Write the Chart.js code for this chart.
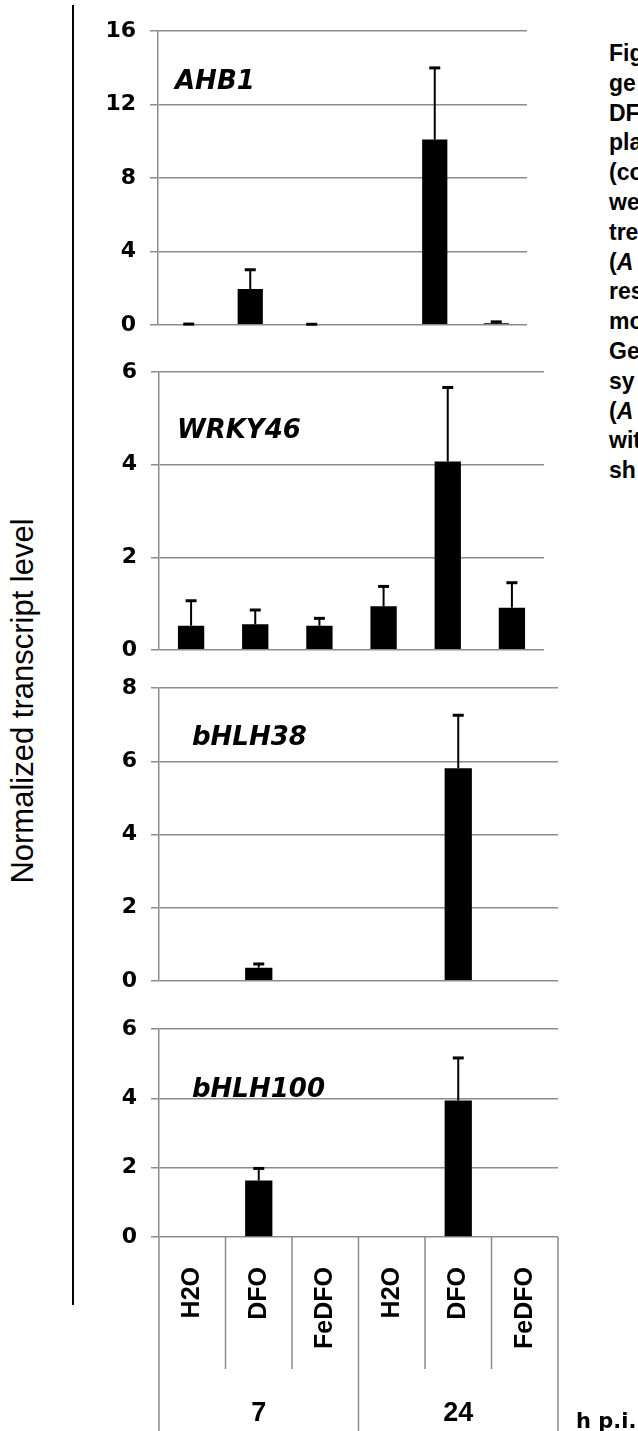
<!DOCTYPE html>
<html>
<head>
<meta charset="utf-8">
<script src="https://cdn.jsdelivr.net/npm/chart.js@4.4.1/dist/chart.umd.min.js"></script>
<style>
  html, body { margin: 0; padding: 0; background: #fff; }
  #page { position: relative; width: 638px; height: 1431px; overflow: hidden; background: #fff; }
  #page canvas { position: absolute; left: 0; }
  #leftbar { position: absolute; left: 72px; top: 5px; width: 2px; height: 1300px; background: #000; }
  #ytitle { position: absolute; left: 23px; top: 701px; transform: translate(-50%, -50%) rotate(-90deg);
            white-space: nowrap; font: 31px "Liberation Sans", Arial, sans-serif; color: #000; }
  #caption { position: absolute; left: 609px; top: 39px; white-space: nowrap; color: #000;
             font: bold 23px "Liberation Sans", Arial, sans-serif; line-height: 29.8px; }
</style>
</head>
<body>
<div id="page">
  <div id="leftbar"></div>
  <div id="ytitle">Normalized transcript level</div>
  <div id="caption">
    Fig<br>ge<br>DF<br>pla<br>(co<br>we<br>tre<br>(<i>A</i><br>res<br>mo<br>Ge<br>sy<br>(<i>A</i><br>wit<br>sh
  </div>
  <canvas id="c1"></canvas>
  <canvas id="c2"></canvas>
  <canvas id="c3"></canvas>
  <canvas id="c4"></canvas>
</div>
<script>
// treatments, two time points (hours post inoculation)
var categories = ['H2O', 'DFO', 'FeDFO', 'H2O', 'DFO', 'FeDFO'];
var timepoints = ['7', '24'];
var genes = ['AHB1', 'WRKY46', 'bHLH38', 'bHLH100'];

var ahb1 = [0.0, 1.95, 0.0, 0.05, 10.1, 0.08];
var ahb1Err = [0.04, 1.05, 0.03, 0.0, 3.9, 0.08];
var wrky46 = [0.52, 0.55, 0.52, 0.94, 4.07, 0.91];
var wrky46Err = [0.54, 0.31, 0.16, 0.43, 1.6, 0.54];
var bhlh38 = [0, 0.36, 0, 0, 5.81, 0];
var bhlh38Err = [0, 0.1, 0, 0, 1.45, 0];
var bhlh100 = [0, 1.63, 0, 0, 3.94, 0];
var bhlh100Err = [0, 0.35, 0, 0, 1.23, 0];

var yMax = [16, 6, 8, 6];
var yStep = [4, 2, 2, 2];

var gridColor = '#8c8c8c';

// plotTop = pixel row of the top gridline, plotH = height down to the zero line
var panels = [
  { canvas: 'c1', values: ahb1, errors: ahb1Err, plotTop: 31, width: 527, plotH: 293, axisLeft: 158, labelDx: 17, labelDy: 58 },
  { canvas: 'c2', values: wrky46, errors: wrky46Err, plotTop: 372, width: 544, plotH: 277, axisLeft: 159, labelDx: 18, labelDy: 66 },
  { canvas: 'c3', values: bhlh38, errors: bhlh38Err, plotTop: 688, width: 558, plotH: 292, axisLeft: 159, labelDx: 33, labelDy: 57 },
  { canvas: 'c4', values: bhlh100, errors: bhlh100Err, plotTop: 1029, width: 638, plotH: 208, axisLeft: 159, labelDx: 33, labelDy: 68, bottom: 194, right: 80 }
];

function errorBarsPlugin(errors) {
  return {
    id: 'errorBars',
    afterDatasetsDraw: function(chart) {
      var ctx = chart.ctx;
      var y = chart.scales.y;
      var meta = chart.getDatasetMeta(0);
      var vals = chart.data.datasets[0].data;
      ctx.save();
      ctx.strokeStyle = '#000';
      meta.data.forEach(function(bar, i) {
        if (!errors[i]) return;
        var yTop = y.getPixelForValue(vals[i] + errors[i]);
        ctx.lineWidth = 2;
        ctx.beginPath();
        ctx.moveTo(bar.x, bar.y);
        ctx.lineTo(bar.x, yTop);
        ctx.stroke();
        ctx.lineWidth = 3;
        ctx.beginPath();
        ctx.moveTo(bar.x - 5.5, yTop);
        ctx.lineTo(bar.x + 5.5, yTop);
        ctx.stroke();
      });
      ctx.restore();
    }
  };
}

function geneLabelPlugin(name, dx, dy) {
  return {
    id: 'geneLabel',
    afterDraw: function(chart) {
      var ctx = chart.ctx, ca = chart.chartArea;
      ctx.save();
      ctx.fillStyle = '#000';
      ctx.font = 'italic bold 26px "DejaVu Sans"';
      ctx.textAlign = 'left';
      ctx.textBaseline = 'alphabetic';
      ctx.fillText(name, ca.left + dx, ca.top + dy);
      ctx.restore();
    }
  };
}

// category frame under the last panel
var categoryFrame = {
  id: 'categoryFrame',
  afterDraw: function(chart) {
    var ctx = chart.ctx, ca = chart.chartArea, x = chart.scales.x;
    function mid(i) { return (x.getPixelForValue(i) + x.getPixelForValue(i + 1)) / 2; }
    function line(x0, y0, x1, y1) { ctx.beginPath(); ctx.moveTo(x0, y0); ctx.lineTo(x1, y1); ctx.stroke(); }
    ctx.save();
    ctx.strokeStyle = gridColor;
    ctx.lineWidth = 1.5;
    [0, 1, 3, 4].forEach(function(i) { line(mid(i), ca.bottom, mid(i), ca.bottom + 132); });
    [ca.left, mid(2), ca.right].forEach(function(px) { line(px, ca.bottom, px, chart.height); });

    ctx.fillStyle = '#000';
    ctx.font = 'bold 25px "Liberation Sans"';
    categories.forEach(function(c, i) {
      ctx.save();
      ctx.translate(x.getPixelForValue(i), ca.bottom + 30);
      ctx.rotate(-Math.PI / 2);
      ctx.textAlign = 'right';
      ctx.textBaseline = 'middle';
      ctx.fillText(c, 0, 0);
      ctx.restore();
    });

    ctx.font = 'bold 27px "Liberation Sans"';
    ctx.textAlign = 'center';
    ctx.textBaseline = 'alphabetic';
    timepoints.forEach(function(t, g) {
      var cx = (x.getPixelForValue(g * 3) + x.getPixelForValue(g * 3 + 2)) / 2;
      ctx.fillText(t, cx, ca.bottom + 184);
    });

    ctx.font = 'bold 21px "DejaVu Sans"';
    ctx.textAlign = 'left';
    ctx.fillText('h p.i.', ca.right + 18, ca.bottom + 191);
    ctx.restore();
  }
};

panels.forEach(function(p, k) {
  var el = document.getElementById(p.canvas);
  var bottomSpace = p.bottom || 28;
  // chart.js keeps about 27px above the top tick with this font
  el.width = p.width;
  el.height = 27 + p.plotH + bottomSpace;
  el.style.top = (p.plotTop - 27) + 'px';

  var plugins = [errorBarsPlugin(p.errors), geneLabelPlugin(genes[k], p.labelDx, p.labelDy)];
  if (k === 3) plugins.push(categoryFrame);

  new Chart(el.getContext('2d'), {
    type: 'bar',
    data: {
      labels: categories,
      datasets: [{
        data: p.values,
        backgroundColor: '#000',
        borderWidth: 0,
        barPercentage: 0.41,
        categoryPercentage: 1.0
      }]
    },
    options: {
      responsive: false,
      animation: false,
      layout: { padding: { top: 16, bottom: p.bottom || 16, left: 0, right: p.right || 0 } },
      plugins: { legend: { display: false }, tooltip: { enabled: false } },
      scales: {
        x: { display: false, offset: true },
        y: {
          min: 0,
          max: yMax[k],
          ticks: {
            stepSize: yStep[k],
            color: '#000',
            padding: 14,
            font: { family: 'DejaVu Sans', weight: 'bold', size: 22 }
          },
          grid: { color: gridColor, lineWidth: 1.5, tickLength: 8 },
          border: { color: gridColor, width: 1.5 },
          afterFit: function(scale) { scale.width = p.axisLeft; }
        }
      }
    },
    plugins: plugins
  });
});
</script>
</body>
</html>
